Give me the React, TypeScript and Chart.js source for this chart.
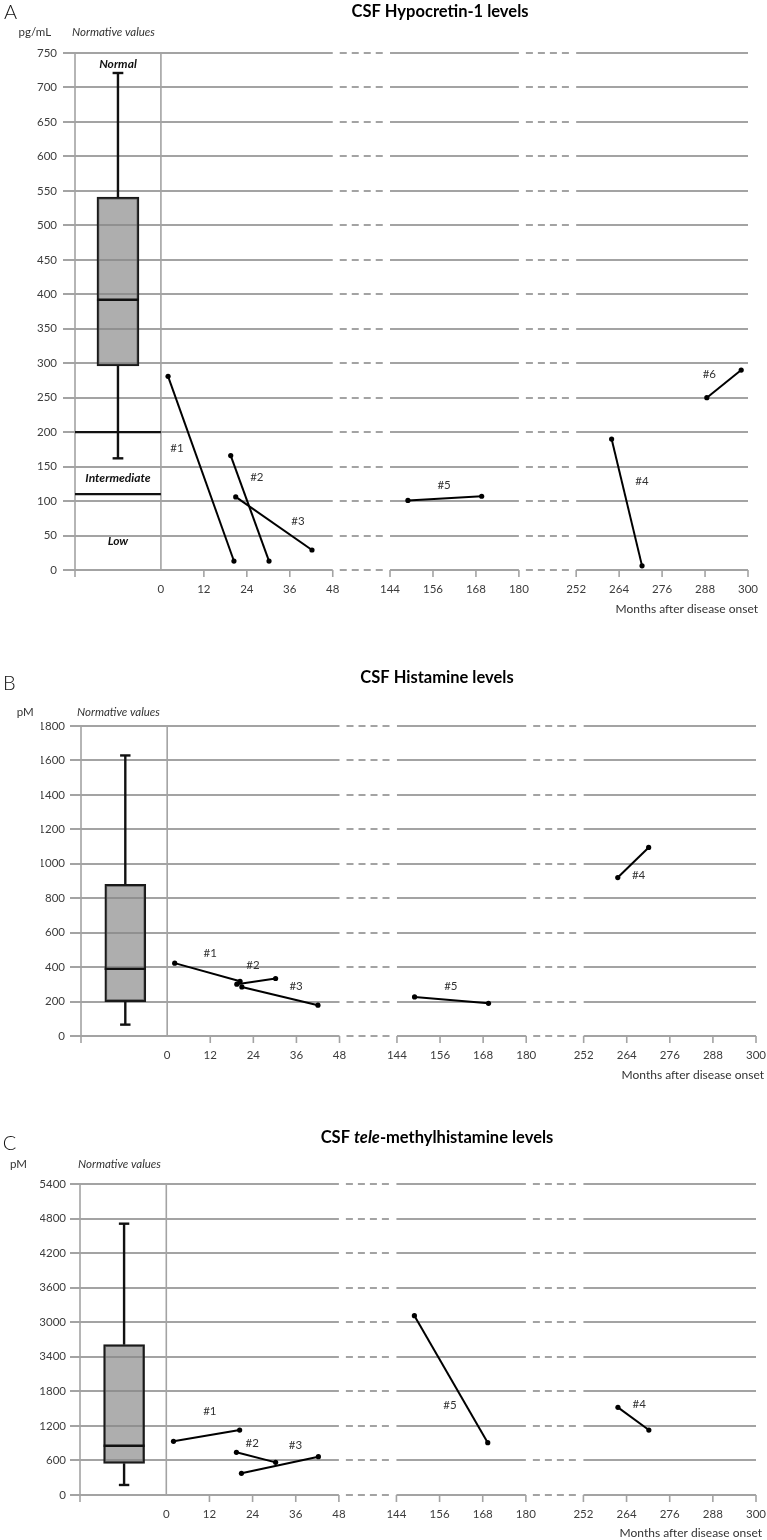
import React, { useEffect, useRef } from 'react';
import { Chart, registerables } from 'chart.js';

Chart.register(...registerables);

// ---------------- DATA ----------------
const xTickMonths = [0, 12, 24, 36, 48, 144, 156, 168, 180, 252, 264, 276, 288, 300];
const xTickLabels = ['0', '12', '24', '36', '48', '144', '156', '168', '180', '252', '264', '276', '288', '300'];

// Panel A - CSF Hypocretin-1 (pg/mL)
const yTicksA = ['0', '50', '100', '150', '200', '250', '300', '350', '400', '450', '500', '550', '600', '650', '700', '750'];
const boxA = [162, 296, 392, 541, 721]; // min, Q1, median, Q3, max
const thresholdsA = [200, 110];
const patientsA = ['#1', '#2', '#3', '#4', '#5', '#6'];
const monthsA = [[2.0, 20.4], [19.5, 30.2], [20.9, 42.2], [261.9, 270.4], [149.0, 169.6], [288.5, 298.1]];
const valuesA = [[281, 13], [166, 13], [106, 29], [190, 6], [101, 107], [250, 290]];

// Panel B - CSF Histamine (pM)
const yTicksB = ['0', '200', '400', '600', '800', '1000', '1200', '1400', '1600', '1800'];
const boxB = [66, 200, 390, 880, 1629];
const patientsB = ['#1', '#2', '#3', '#4', '#5'];
const monthsB = [[2.1, 20.3], [19.4, 30.2], [20.8, 42.0], [261.5, 270.1], [148.9, 169.5]];
const valuesB = [[423, 318], [301, 334], [285, 179], [920, 1095], [227, 190]];

// Panel C - CSF tele-methylhistamine (pM)
const yTicksC = ['0', '600', '1200', '1800', '3400', '3000', '3600', '4200', '4800', '5400'];
const boxC = [174, 550, 856, 2610, 4711];
const patientsC = ['#1', '#2', '#3', '#4', '#5'];
const monthsC = [[2.0, 20.4], [19.5, 30.4], [20.9, 42.3], [261.6, 270.2], [149.0, 169.4]];
const valuesC = [[932, 1128], [741, 567], [376, 665], [1522, 1128], [3113, 908]];

// ---------------- BROKEN AXIS MAPPING ----------------
const GAP = 16;
function mx(m: number) {
  if (m <= 48) return m;
  if (m <= 180) return m - 144 + 48 + GAP;
  return m - 252 + 48 + GAP + 36 + GAP;
}

const FONT = 'Lato, "DejaVu Sans", sans-serif';
const GRID = '#a3a3a3';
const TICK_COLOR = '#3c3c3c';

const PANELS: any[] = [
  {
    key: 'A', height: 620, pad: { left: 35, right: 19, top: 53, bottom: 20 },
    yMax: 750, yStep: 50, yLabels: yTicksA, yPad: 18, gridExt: 12,
    box: boxA, boxX: -12, boxHalf: 5.87, capHalf: 1.5, boxW: 42, thresholds: thresholdsA,
    ids: patientsA, months: monthsA, values: valuesA,
    anchors: [[4.5, 176], [26.8, 135], [38.3, 71], [270.4, 129], [159.1, 123], [289.2, 284]],
    letter: { t: 'A', x: 4, y: 19 }, unit: { t: 'pg/mL', x: 18.5, y: 32 }, norm: { x: 72, y: 32 },
    title: { cx: 440, cy: 12, parts: [['CSF Hypocretin-1 levels', false]] },
    monthsLabel: { x: 758, y: 609 },
    zones: [['Normal', 734], ['Intermediate', 134], ['Low', 42]],
  },
  {
    key: 'B', height: 470, pad: { left: 41, right: 11, top: 106, bottom: 24 },
    yMax: 1800, yStep: 200, yLabels: yTicksB, yPad: 16, gridExt: 11,
    box: boxB, boxX: -11.66, boxHalf: 5.75, capHalf: 1.45, boxW: 41, thresholds: [],
    ids: patientsB, months: monthsB, values: valuesB,
    anchors: [[12.0, 483], [23.9, 408], [35.9, 288], [267.3, 936], [159.0, 291]],
    letter: { t: 'B', x: 3, y: 70 }, unit: { t: 'pM', x: 16.7, y: 92 }, norm: { x: 77, y: 92 },
    title: { cx: 437, cy: 58, parts: [['CSF Histamine levels', false]] },
    monthsLabel: { x: 764, y: 455 },
    zones: [],
  },
  {
    key: 'C', height: 450, pad: { left: 40, right: 11, top: 94, bottom: 15 },
    yMax: 5400, yStep: 600, yLabels: yTicksC, yPad: 14, gridExt: 10,
    box: boxC, boxX: -11.74, boxHalf: 5.7, capHalf: 1.45, boxW: 41, thresholds: [],
    ids: patientsC, months: monthsC, values: valuesC,
    anchors: [[12.1, 1446], [23.9, 897], [35.9, 856], [267.5, 1580], [158.9, 1550]],
    letter: { t: 'C', x: 2.7, y: 60 }, unit: { t: 'pM', x: 10, y: 74 }, norm: { x: 78, y: 74 },
    title: { cx: 437, cy: 48, parts: [['CSF ', false], ['tele', true], ['-methylhistamine levels', false]] },
    monthsLabel: { x: 762, y: 443 },
    zones: [],
  },
];

function lineDs(points: any[], width: number, radius: number, extra: any = {}) {
  return {
    type: 'line',
    data: points,
    borderColor: '#000',
    backgroundColor: '#000',
    borderWidth: width,
    pointRadius: radius,
    pointBackgroundColor: '#000',
    pointBorderWidth: 0,
    pointHoverRadius: radius,
    tension: 0,
    fill: false,
    ...extra,
  };
}

function decorPlugin(p: any) {
  return {
    id: 'decor' + p.key,
    beforeDatasetsDraw(chart: any) {
      const { ctx, scales } = chart;
      const xs = scales.x;
      const ys = scales.y;
      const X = (m: number) => xs.getPixelForValue(mx(m));
      const left = xs.getPixelForValue(-24);
      const zero = xs.getPixelForValue(0);
      const top = Math.round(ys.getPixelForValue(p.yMax));
      const bottom = Math.round(ys.getPixelForValue(0));
      ctx.save();
      ctx.strokeStyle = GRID;
      ctx.lineWidth = 2;
      const solid = [[left - p.gridExt, X(48)], [X(144), X(180)], [X(252), X(300)]];
      const dashed = [[X(48) + 7, X(144) - 6], [X(180) + 7, X(252) - 6]];
      for (let v = 0; v <= p.yMax; v += p.yStep) {
        const py = Math.round(ys.getPixelForValue(v));
        ctx.setLineDash([]);
        for (const [a, b] of solid) {
          ctx.beginPath(); ctx.moveTo(a, py); ctx.lineTo(b, py); ctx.stroke();
        }
        ctx.setLineDash([7, 5]);
        for (const [a, b] of dashed) {
          ctx.beginPath(); ctx.moveTo(a, py); ctx.lineTo(b, py); ctx.stroke();
        }
      }
      ctx.setLineDash([]);
      ctx.lineWidth = 1.6;
      // vertical lines of the normative-values box region
      ctx.beginPath(); ctx.moveTo(left, top); ctx.lineTo(left, bottom + 7); ctx.stroke();
      ctx.beginPath(); ctx.moveTo(zero, top); ctx.lineTo(zero, bottom); ctx.stroke();
      // x tick marks
      for (const m of xTickMonths) {
        if (m === 0) continue;
        const px = X(m);
        ctx.beginPath(); ctx.moveTo(px, bottom); ctx.lineTo(px, bottom + 7); ctx.stroke();
      }
      ctx.restore();
    },
    afterDraw(chart: any) {
      const { ctx, scales } = chart;
      const xs = scales.x;
      const ys = scales.y;
      ctx.save();
      ctx.textBaseline = 'alphabetic';
      ctx.textAlign = 'left';
      ctx.fillStyle = '#111';
      ctx.font = `300 20px ${FONT}`;
      ctx.fillText(p.letter.t, p.letter.x, p.letter.y);

      ctx.textBaseline = 'middle';
      ctx.fillStyle = '#333';
      ctx.font = `11.5px ${FONT}`;
      ctx.fillText(p.unit.t, p.unit.x, p.unit.y);
      ctx.font = `italic 11.5px ${FONT}`;
      ctx.fillText('Normative values', p.norm.x, p.norm.y);

      // title
      ctx.fillStyle = '#000';
      const fonts = p.title.parts.map((pt: any) => `${pt[1] ? 'italic ' : ''}bold 16.5px ${FONT}`);
      let total = 0;
      const widths = p.title.parts.map((pt: any, i: number) => {
        ctx.font = fonts[i];
        const w = ctx.measureText(pt[0]).width;
        total += w;
        return w;
      });
      let tx = p.title.cx - total / 2;
      p.title.parts.forEach((pt: any, i: number) => {
        ctx.font = fonts[i];
        ctx.fillText(pt[0], tx, p.title.cy);
        tx += widths[i];
      });

      // axis title
      ctx.fillStyle = '#333';
      ctx.font = `12px ${FONT}`;
      ctx.textAlign = 'right';
      ctx.fillText('Months after disease onset', p.monthsLabel.x, p.monthsLabel.y);

      // patient labels
      ctx.textAlign = 'center';
      ctx.font = `11.5px ${FONT}`;
      p.ids.forEach((id: string, i: number) => {
        const [m, v] = p.anchors[i];
        ctx.fillText(id, xs.getPixelForValue(mx(m)), ys.getPixelForValue(v));
      });

      // zone labels (panel A)
      ctx.fillStyle = '#111';
      ctx.font = `italic bold 12px ${FONT}`;
      for (const [t, v] of p.zones) {
        ctx.fillText(t, xs.getPixelForValue(p.boxX), ys.getPixelForValue(v));
      }
      ctx.restore();
    },
  };
}

function buildChart(canvas: HTMLCanvasElement, p: any) {
  const [bMin, bQ1, bMed, bQ3, bMax] = p.box;
  const bx = p.boxX;
  const datasets: any[] = [];
  p.months.forEach((ms: number[], i: number) => {
    const vs = p.values[i];
    datasets.push(lineDs([{ x: mx(ms[0]), y: vs[0] }, { x: mx(ms[1]), y: vs[1] }], 2, 2.6));
  });
  for (const t of p.thresholds) {
    datasets.push(lineDs([{ x: -24, y: t }, { x: 0, y: t }], 2.2, 0, { clip: false, borderColor: '#111' }));
  }
  datasets.push(lineDs([{ x: bx - p.boxHalf, y: bMed }, { x: bx + p.boxHalf, y: bMed }], 2.4, 0, { borderColor: '#111' }));
  datasets.push(lineDs([{ x: bx, y: bQ3 }, { x: bx, y: bMax }], 2.4, 0, { borderColor: '#111' }));
  datasets.push(lineDs([{ x: bx, y: bMin }, { x: bx, y: bQ1 }], 2.4, 0, { borderColor: '#111' }));
  datasets.push(lineDs([{ x: bx - p.capHalf, y: bMax }, { x: bx + p.capHalf, y: bMax }], 2.4, 0, { borderColor: '#111' }));
  datasets.push(lineDs([{ x: bx - p.capHalf, y: bMin }, { x: bx + p.capHalf, y: bMin }], 2.4, 0, { borderColor: '#111' }));
  datasets.push({
    type: 'bar',
    data: [{ x: bx, y: [bQ1, bQ3] }],
    backgroundColor: 'rgba(135,135,135,0.68)',
    borderColor: '#1a1a1a',
    borderWidth: 2,
    borderSkipped: false,
    barThickness: p.boxW,
  });

  return new Chart(canvas, {
    type: 'line',
    data: { datasets },
    options: {
      animation: false,
      responsive: false,
      devicePixelRatio: 1,
      events: [],
      layout: { padding: p.pad },
      plugins: { legend: { display: false }, tooltip: { enabled: false }, title: { display: false } },
      scales: {
        x: {
          type: 'linear',
          min: -24,
          max: mx(300),
          offset: false,
          grid: { display: false, drawTicks: false },
          border: { display: false },
          afterFit: (s: any) => { s.height = 30; s.paddingLeft = 0; s.paddingRight = 0; },
          afterBuildTicks: (s: any) => { s.ticks = xTickMonths.map((m) => ({ value: mx(m) })); },
          ticks: {
            autoSkip: false,
            maxRotation: 0,
            padding: 12,
            color: TICK_COLOR,
            font: { family: FONT, size: 11.5 },
            callback: (_v: any, i: number) => xTickLabels[i],
          },
        },
        y: {
          type: 'linear',
          min: 0,
          max: p.yMax,
          grid: { display: false, drawTicks: false },
          border: { display: false },
          afterFit: (s: any) => { s.width = 40; s.paddingTop = 0; s.paddingBottom = 0; },
          ticks: {
            stepSize: p.yStep,
            padding: p.yPad,
            color: TICK_COLOR,
            font: { family: FONT, size: 11.5 },
            callback: (_v: any, i: number) => p.yLabels[i],
          },
        },
      },
    },
    plugins: [decorPlugin(p)],
  } as any);
}

function Panel({ p }: { p: any }) {
  const ref = useRef<HTMLCanvasElement>(null);
  useEffect(() => {
    const chart = buildChart(ref.current as HTMLCanvasElement, p);
    return () => chart.destroy();
  }, [p]);
  return (
    <canvas
      ref={ref}
      width={767}
      height={p.height}
      style={{ display: 'block', width: 767, height: p.height }}
    />
  );
}

export default function App() {
  return (
    <div style={{ position: 'absolute', left: 0, top: 0, width: 767, height: 1540, background: '#fff' }}>
      {PANELS.map((p) => (
        <Panel key={p.key} p={p} />
      ))}
    </div>
  );
}
